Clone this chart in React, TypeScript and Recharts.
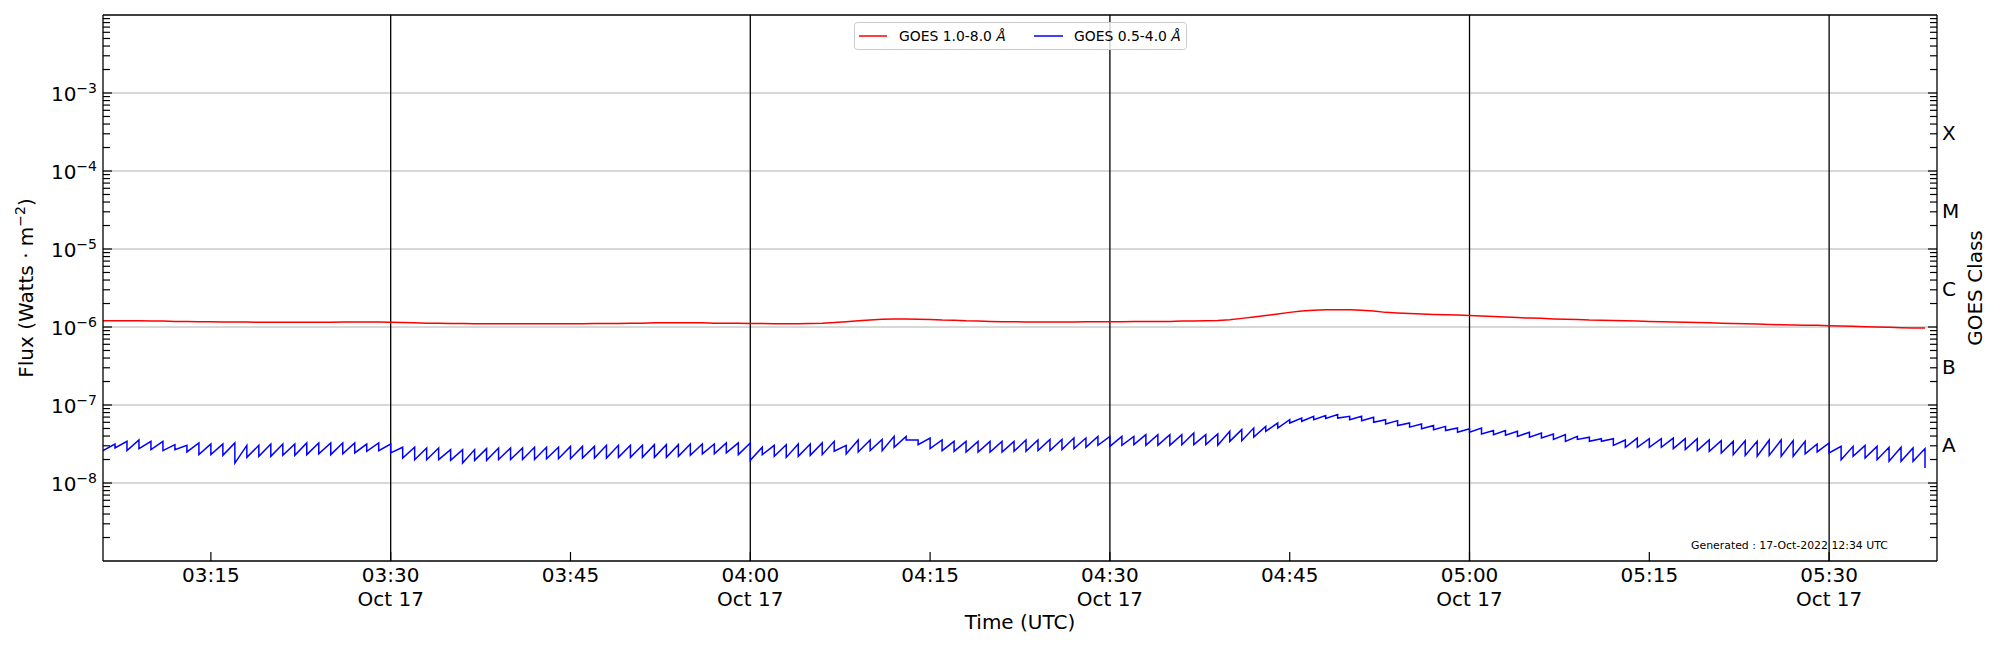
import { LineChart, Line, XAxis, YAxis, ReferenceLine, Legend } from "recharts";

// time of the first sample, one sample per minute after that
const startTime = "03:06";
const endTime = "05:39";

// GOES 1.0-8.0 A, in units of 1e-6 W/m^2, one value per minute
const longFlux = [
  1.2, 1.2, 1.2, 1.2, 1.19, 1.19, 1.18, 1.18, 1.17, 1.17,
  1.16, 1.16, 1.16, 1.15, 1.15, 1.15, 1.15, 1.15, 1.15, 1.15,
  1.16, 1.16, 1.16, 1.16, 1.15, 1.14, 1.13, 1.12, 1.12, 1.11,
  1.11, 1.1, 1.1, 1.1, 1.1, 1.1, 1.1, 1.1, 1.1, 1.1,
  1.1, 1.11, 1.11, 1.11, 1.12, 1.12, 1.13, 1.13, 1.13, 1.13,
  1.13, 1.12, 1.12, 1.12, 1.11, 1.11, 1.1, 1.1, 1.1, 1.11,
  1.12, 1.14, 1.17, 1.2, 1.23, 1.26, 1.27, 1.27, 1.26, 1.25,
  1.23, 1.22, 1.2, 1.19, 1.18, 1.17, 1.17, 1.16, 1.16, 1.16,
  1.16, 1.16, 1.17, 1.17, 1.17, 1.17, 1.18, 1.18, 1.18, 1.18,
  1.19, 1.19, 1.2, 1.21, 1.24, 1.29, 1.34, 1.4, 1.47, 1.54,
  1.6, 1.64, 1.66, 1.67, 1.67, 1.64, 1.6, 1.54, 1.51, 1.49,
  1.47, 1.45, 1.44, 1.42, 1.4, 1.38, 1.36, 1.34, 1.32, 1.3,
  1.29, 1.27, 1.26, 1.25, 1.23, 1.22, 1.21, 1.2, 1.19, 1.18,
  1.17, 1.16, 1.15, 1.14, 1.13, 1.12, 1.11, 1.1, 1.09, 1.08,
  1.07, 1.06, 1.05, 1.05, 1.04, 1.03, 1.02, 1.01, 1.0, 0.99,
  0.98, 0.97, 0.97,
];

// GOES 0.5-4.0 A, in units of 1e-8 W/m^2: value at the start of each minute
const shortLow = [
  2.6, 2.81, 2.6, 2.76, 2.68, 2.6, 2.68, 2.5, 2.31, 2.31,
  2.26, 1.8, 2.13, 2.2, 2.2, 2.26, 2.26, 2.31, 2.36, 2.31,
  2.36, 2.43, 2.55, 2.6, 2.43, 2.09, 1.99, 1.99, 1.99, 1.95,
  1.8, 1.95, 1.95, 2.0, 2.0, 2.0, 2.0, 2.05, 2.05, 2.05,
  2.09, 2.09, 2.09, 2.13, 2.13, 2.13, 2.13, 2.13, 2.2, 2.26,
  2.36, 2.36, 2.43, 2.31, 1.95, 2.31, 2.2, 2.13, 2.2, 2.26,
  2.31, 2.55, 2.36, 2.5, 2.6, 2.6, 2.87, 3.56, 3.1, 2.76,
  2.6, 2.55, 2.5, 2.5, 2.5, 2.5, 2.55, 2.55, 2.6, 2.6,
  2.68, 2.76, 2.87, 3.04, 2.95, 3.04, 3.1, 3.04, 3.04, 3.04,
  3.1, 3.1, 3.1, 3.04, 3.42, 3.49, 3.87, 4.59, 5.07, 5.87,
  6.18, 6.49, 6.7, 6.81, 6.49, 6.3, 6.0, 5.7, 5.45, 5.2,
  4.95, 4.83, 4.7, 4.48, 4.48, 4.25, 4.17, 4.1, 3.96, 3.87,
  3.77, 3.62, 3.42, 3.62, 3.42, 3.42, 3.04, 2.87, 2.87, 2.87,
  2.87, 2.76, 2.68, 2.6, 2.55, 2.43, 2.31, 2.26, 2.2, 2.26,
  2.2, 2.2, 2.36, 2.5, 2.43, 1.99, 2.2, 2.09, 1.99, 1.9,
  1.9, 1.9, 1.56,
];

// GOES 0.5-4.0 A, in units of 1e-8 W/m^2: value at the end of each minute
const shortHigh = [
  3.16, 3.42, 3.56, 3.42, 3.42, 3.1, 3.04, 3.26, 3.16, 3.16,
  3.26, 3.04, 3.04, 3.16, 3.16, 3.16, 3.26, 3.26, 3.26, 3.26,
  3.26, 3.16, 3.26, 3.16, 2.87, 2.87, 2.81, 2.81, 2.68, 2.68,
  2.68, 2.76, 2.81, 2.81, 2.81, 2.87, 2.87, 2.87, 2.95, 2.95,
  2.95, 3.04, 3.04, 3.04, 3.04, 3.1, 3.1, 3.1, 3.16, 3.16,
  3.16, 3.26, 3.26, 3.26, 2.87, 3.04, 3.1, 3.16, 3.16, 3.26,
  3.42, 3.04, 3.56, 3.56, 3.62, 3.96, 3.96, 3.56, 3.77, 3.56,
  3.42, 3.42, 3.42, 3.42, 3.42, 3.42, 3.56, 3.56, 3.62, 3.62,
  3.77, 3.77, 3.96, 3.96, 3.96, 3.96, 4.17, 4.17, 4.17, 4.17,
  4.37, 4.17, 4.25, 4.59, 4.83, 5.07, 5.32, 5.87, 6.49, 6.81,
  7.16, 7.34, 7.52, 7.16, 7.16, 6.95, 6.49, 6.3, 5.87, 5.7,
  5.45, 5.32, 5.07, 4.95, 5.07, 4.7, 4.7, 4.59, 4.48, 4.37,
  4.25, 4.17, 3.96, 3.87, 3.7, 3.7, 3.56, 3.77, 3.7, 3.7,
  3.77, 3.7, 3.7, 3.56, 3.49, 3.42, 3.49, 3.42, 3.56, 3.56,
  3.49, 3.42, 3.16, 3.26, 2.95, 2.95, 3.04, 2.95, 2.87, 2.87,
  2.81, 2.76,
];

const timeTicks = ["03:15", "03:30", "03:45", "04:00", "04:15", "04:30", "04:45", "05:00", "05:15", "05:30"];
const dateTicks = ["", "Oct 17", "", "Oct 17", "", "Oct 17", "", "Oct 17", "", "Oct 17"];
const fluxExponents = [-8, -7, -6, -5, -4, -3];
const classLabels = ["A", "B", "C", "M", "X"];
const classExponents = [-7.5, -6.5, -5.5, -4.5, -3.5];

const toMinutes = (s: string) => {
  const [h, m] = s.split(":").map(Number);
  return h * 60 + m;
};
const t0 = toMinutes(startTime);
const xMax = toMinutes(endTime) - t0;
const xTickValues = timeTicks.map((s) => toMinutes(s) - t0);
const halfHours = xTickValues.filter((_, i) => dateTicks[i] !== "");

const longData = longFlux.map((v, i) => ({ t: i, flux: v * 1e-6 }));
const shortData = shortHigh
  .flatMap((hi, i) => [
    { t: i, flux: shortLow[i] * 1e-8 },
    { t: i + 1, flux: hi * 1e-8 },
  ])
  .concat([{ t: shortHigh.length, flux: shortLow[shortHigh.length] * 1e-8 }]);

// log axis ticks: decades plus 2..9 minor ticks inside each decade
const majorTicks = fluxExponents.map((e) => Math.pow(10, e));
const minorTicks: number[] = [];
for (let e = -9; e <= -3; e++) {
  for (let k = 2; k <= 9; k++) minorTicks.push(k * Math.pow(10, e));
}
const classTicks = classExponents.map((e) => Math.pow(10, e));
const leftTicks = [...majorTicks, ...minorTicks].sort((a, b) => a - b);
const rightTicks = [...majorTicks, ...minorTicks, ...classTicks].sort((a, b) => a - b);

const FONT = "'DejaVu Sans', sans-serif";

const isMajor = (v: number) => {
  const lg = Math.log10(v);
  return Math.abs(lg - Math.round(lg)) < 1e-6;
};

// ticks point into the plot, like matplotlib's direction="in"
function FluxTick(props: any) {
  const { x, y, payload } = props;
  const v = payload.value;
  const major = isMajor(v);
  const exp = Math.round(Math.log10(v));
  return (
    <g>
      <line x1={x} x2={x + (major ? 9 : 7)} y1={y} y2={y} stroke="#000" strokeWidth={1.2} />
      {major && (
        <text x={x - 6} y={y + 7.5} textAnchor="end" fontSize={20} fill="#000" stroke="none" fontFamily={FONT}>
          10
          <tspan fontSize={14} dy={-7.5}>
            {"\u2212" + Math.abs(exp)}
          </tspan>
        </text>
      )}
    </g>
  );
}

function ClassTick(props: any) {
  const { x, y, payload } = props;
  const v = payload.value;
  const ci = classTicks.findIndex((c) => Math.abs(Math.log10(c) - Math.log10(v)) < 1e-6);
  if (ci >= 0) {
    return (
      <text x={x + 5} y={y + 7.5} fontSize={20} fill="#000" stroke="none" fontFamily={FONT}>
        {classLabels[ci]}
      </text>
    );
  }
  return <line x1={x} x2={x - (isMajor(v) ? 9 : 7)} y1={y} y2={y} stroke="#000" strokeWidth={1.2} />;
}

function TimeTick(props: any) {
  const { x, y, payload, index } = props;
  const i = xTickValues.indexOf(payload.value);
  const k = i >= 0 ? i : index;
  return (
    <g>
      <line x1={x} x2={x} y1={y} y2={y - 9} stroke="#000" strokeWidth={1.2} />
      <text x={x} y={y + 21} textAnchor="middle" fontSize={20} fill="#000" stroke="none" fontFamily={FONT}>
        {timeTicks[k]}
      </text>
      <text x={x} y={y + 45} textAnchor="middle" fontSize={20} fill="#000" stroke="none" fontFamily={FONT}>
        {dateTicks[k]}
      </text>
    </g>
  );
}

function FluxLabel(props: any) {
  const vb = props.viewBox || { x: 0, y: 15, width: 103, height: 546 };
  const cx = vb.x + 33;
  const cy = vb.y + vb.height / 2;
  return (
    <text x={cx} y={cy} transform={`rotate(-90, ${cx}, ${cy})`} textAnchor="middle" fontSize={20} fill="#000" fontFamily={FONT}>
      Flux (Watts · m
      <tspan fontSize={14} dy={-8}>
        {"\u22122"}
      </tspan>
      <tspan dy={8}>)</tspan>
    </text>
  );
}

function ClassLabel(props: any) {
  const vb = props.viewBox || { x: 1937, y: 15, width: 63, height: 546 };
  const cx = vb.x + 45;
  const cy = vb.y + vb.height / 2;
  return (
    <text x={cx} y={cy} transform={`rotate(-90, ${cx}, ${cy})`} textAnchor="middle" fontSize={20} fill="#000" fontFamily={FONT}>
      GOES Class
    </text>
  );
}

function TimeLabel(props: any) {
  const vb = props.viewBox || { x: 103, y: 561, width: 1834, height: 89 };
  return (
    <text x={vb.x + vb.width / 2} y={vb.y + 68} textAnchor="middle" fontSize={20} fill="#000" fontFamily={FONT}>
      Time (UTC)
    </text>
  );
}

function LegendBox() {
  return (
    <svg width={334} height={30} style={{ display: "block", overflow: "visible" }}>
      <rect x={0.5} y={0.5} width={332} height={27} rx={3} fill="rgba(255,255,255,0.8)" stroke="#cccccc" strokeWidth={1} />
      <line x1={5} x2={33} y1={14} y2={14} stroke="#ff0000" strokeWidth={1.5} />
      <text x={45} y={19} fontSize={13.9} fill="#000" fontFamily={FONT}>
        GOES 1.0-8.0 <tspan fontStyle="italic">Å</tspan>
      </text>
      <line x1={180} x2={209} y1={14} y2={14} stroke="#0000ff" strokeWidth={1.5} />
      <text x={220} y={19} fontSize={13.9} fill="#000" fontFamily={FONT}>
        GOES 0.5-4.0 <tspan fontStyle="italic">Å</tspan>
      </text>
    </svg>
  );
}

export default function App() {
  return (
    <div style={{ position: "absolute", left: 0, top: 0, width: 2000, height: 650, background: "#fff", fontFamily: FONT }}>
      <LineChart width={2000} height={650} margin={{ top: 15, right: 0, bottom: 0, left: 0 }}>
        <XAxis
          dataKey="t"
          type="number"
          domain={[0, xMax]}
          ticks={xTickValues}
          interval={0}
          allowDataOverflow
          height={89}
          tickSize={0}
          tickMargin={0}
          tickLine={false}
          tick={(p: any) => <TimeTick {...p} />}
          axisLine={{ stroke: "#000", strokeWidth: 1.3 }}
          label={<TimeLabel />}
        />
        <YAxis
          yAxisId="flux"
          orientation="left"
          type="number"
          scale="log"
          domain={[1e-9, 1e-2]}
          ticks={leftTicks}
          interval={0}
          allowDataOverflow
          width={103}
          tickSize={0}
          tickMargin={0}
          tickLine={false}
          tick={(p: any) => <FluxTick {...p} />}
          axisLine={{ stroke: "#000", strokeWidth: 1.3 }}
          label={<FluxLabel />}
        />
        <YAxis
          yAxisId="cls"
          orientation="right"
          type="number"
          scale="log"
          domain={[1e-9, 1e-2]}
          ticks={rightTicks}
          interval={0}
          allowDataOverflow
          width={63}
          tickSize={0}
          tickMargin={0}
          tickLine={false}
          tick={(p: any) => <ClassTick {...p} />}
          axisLine={{ stroke: "#000", strokeWidth: 1.3 }}
          label={<ClassLabel />}
        />
        {majorTicks.map((v) => (
          <ReferenceLine key={"h" + v} yAxisId="flux" y={v} stroke="#b0b0b0" strokeWidth={1} />
        ))}
        {halfHours.map((t) => (
          <ReferenceLine key={"v" + t} yAxisId="flux" x={t} stroke="#000" strokeWidth={1.3} />
        ))}
        <ReferenceLine yAxisId="flux" y={1e-2} stroke="#000" strokeWidth={1.3} ifOverflow="visible" />
        <Line
          yAxisId="flux"
          data={longData}
          dataKey="flux"
          name="GOES 1.0-8.0 Å"
          stroke="#ff0000"
          strokeWidth={1.5}
          dot={false}
          activeDot={false}
          isAnimationActive={false}
        />
        <Line
          yAxisId="flux"
          data={shortData}
          dataKey="flux"
          name="GOES 0.5-4.0 Å"
          stroke="#0000ff"
          strokeWidth={1.5}
          dot={false}
          activeDot={false}
          isAnimationActive={false}
        />
        <Legend
          layout="vertical"
          verticalAlign="middle"
          align="center"
          content={() => <LegendBox />}
          wrapperStyle={{ left: 854, top: 22, width: 334, height: 30 }}
        />
      </LineChart>
      <svg width={2000} height={650} style={{ position: "absolute", left: 0, top: 0, pointerEvents: "none" }}>
        <text x={1691} y={549} fontSize={10.9} fill="#000" fontFamily={FONT}>
          Generated : 17-Oct-2022 12:34 UTC
        </text>
      </svg>
    </div>
  );
}
